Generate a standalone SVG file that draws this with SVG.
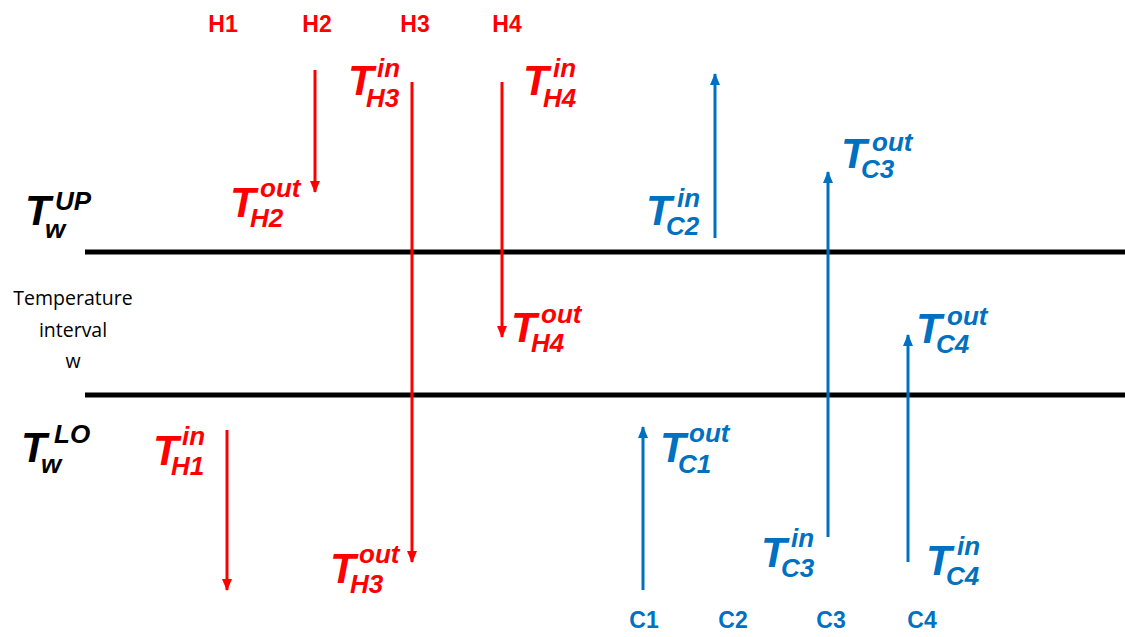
<svg xmlns="http://www.w3.org/2000/svg" width="1125" height="637" viewBox="0 0 1125 637">
<style>
.hot{stroke:#FF0000;stroke-width:3;fill:none}
.cold{stroke:#0070C0;stroke-width:3;fill:none}
.bar{stroke:#000;stroke-width:5}
.big{font-family:"Liberation Sans",Arial,sans-serif;font-weight:bold;font-style:italic;font-size:42px}
.sm{font-size:26px}
.lab{font-family:"Liberation Sans",Arial,sans-serif;font-weight:bold;font-size:23px;text-anchor:middle}
.r{fill:#FF0000}
.b{fill:#0070C0}
.k{fill:#000}
.note{font-family:"Open Sans","Liberation Sans",sans-serif;font-size:19.5px;text-anchor:middle;fill:#000}
</style>
<defs>
<marker id="mr" viewBox="0 0 12 10" refX="11" refY="5" markerWidth="12" markerHeight="10" markerUnits="userSpaceOnUse" orient="auto">
<path d="M0,0 L12,5 L0,10 Z" fill="#FF0000"/>
</marker>
<marker id="mb" viewBox="0 0 12 10" refX="11" refY="5" markerWidth="12" markerHeight="10" markerUnits="userSpaceOnUse" orient="auto">
<path d="M0,0 L12,5 L0,10 Z" fill="#0070C0"/>
</marker>
</defs>

<g id="intervals">
<line class="bar" x1="85" y1="252" x2="1125" y2="252"/>
<line class="bar" x1="85" y1="395" x2="1125" y2="395"/>
</g>

<g id="connectors">
<line class="hot" x1="227" y1="430" x2="227" y2="590" marker-end="url(#mr)"/>
<line class="hot" x1="315" y1="70" x2="315" y2="192" marker-end="url(#mr)"/>
<line class="hot" x1="412" y1="82" x2="412" y2="562" marker-end="url(#mr)"/>
<line class="hot" x1="502" y1="82" x2="502" y2="337" marker-end="url(#mr)"/>
<line class="cold" x1="643" y1="590" x2="643" y2="427" marker-end="url(#mb)"/>
<line class="cold" x1="715" y1="238" x2="715" y2="74" marker-end="url(#mb)"/>
<line class="cold" x1="828" y1="537" x2="828" y2="172" marker-end="url(#mb)"/>
<line class="cold" x1="908" y1="562" x2="908" y2="335" marker-end="url(#mb)"/>
</g>

<g id="stream-labels">
<text class="lab r" x="223" y="32">H1</text>
<text class="lab r" x="317" y="32">H2</text>
<text class="lab r" x="415" y="32">H3</text>
<text class="lab r" x="507" y="32">H4</text>
<text class="lab b" x="644" y="628">C1</text>
<text class="lab b" x="733" y="628">C2</text>
<text class="lab b" x="831" y="628">C3</text>
<text class="lab b" x="922" y="628">C4</text>
</g>

<g id="TwUP"><text class="big k" x="25" y="225">T<tspan class="sm" x="55" y="210">UP</tspan><tspan class="sm" x="45" y="238">w</tspan></text></g>
<g id="TwLO"><text class="big k" x="21" y="462">T<tspan class="sm" x="54" y="443">LO</tspan><tspan class="sm" x="41" y="473">w</tspan></text></g>
<g id="interval-note">
<text class="note" x="73" y="305">Temperature</text>
<text class="note" x="73" y="337">interval</text>
<text class="note" x="73" y="368">w</text>
</g>

<g id="TH2out"><text class="big r" x="230" y="217">T<tspan class="sm" x="260" y="197">out</tspan><tspan class="sm" x="250" y="227">H2</tspan></text></g>
<g id="TH3in"><text class="big r" x="348" y="95">T<tspan class="sm" x="377" y="77">in</tspan><tspan class="sm" x="366" y="107">H3</tspan></text></g>
<g id="TH4in"><text class="big r" x="523" y="95">T<tspan class="sm" x="553" y="77">in</tspan><tspan class="sm" x="543" y="107">H4</tspan></text></g>
<g id="TH4out"><text class="big r" x="511" y="342">T<tspan class="sm" x="541" y="323">out</tspan><tspan class="sm" x="531" y="352">H4</tspan></text></g>
<g id="TH1in"><text class="big r" x="153" y="465">T<tspan class="sm" x="182" y="445">in</tspan><tspan class="sm" x="171" y="475">H1</tspan></text></g>
<g id="TH3out"><text class="big r" x="330" y="583">T<tspan class="sm" x="359" y="563">out</tspan><tspan class="sm" x="350" y="593">H3</tspan></text></g>

<g id="TC2in"><text class="big b" x="646" y="225">T<tspan class="sm" x="677" y="207">in</tspan><tspan class="sm" x="666" y="235">C2</tspan></text></g>
<g id="TC3out"><text class="big b" x="841" y="168">T<tspan class="sm" x="872" y="151">out</tspan><tspan class="sm" x="861" y="178">C3</tspan></text></g>
<g id="TC4out"><text class="big b" x="916" y="343">T<tspan class="sm" x="947" y="325">out</tspan><tspan class="sm" x="936" y="353">C4</tspan></text></g>
<g id="TC1out"><text class="big b" x="660" y="462">T<tspan class="sm" x="689" y="442">out</tspan><tspan class="sm" x="678" y="473">C1</tspan></text></g>
<g id="TC3in"><text class="big b" x="761" y="567">T<tspan class="sm" x="791" y="547">in</tspan><tspan class="sm" x="781" y="577">C3</tspan></text></g>
<g id="TC4in"><text class="big b" x="926" y="575">T<tspan class="sm" x="957" y="555">in</tspan><tspan class="sm" x="946" y="585">C4</tspan></text></g>
</svg>
